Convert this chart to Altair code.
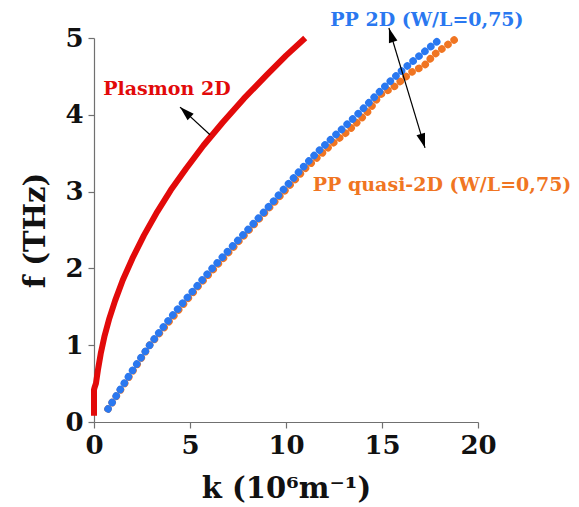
import altair as alt
import pandas as pd

# Plasmon 2D dispersion (k in 10^6 m^-1, f in THz)
plasmon_k = [0.0, 0.0, 0.03, 0.1, 0.2, 0.35, 0.55, 0.8, 1.1, 1.5, 2.0, 2.6, 3.3,
             4.0, 4.8, 5.7, 6.7, 7.8, 9.0, 10.0, 11.0]
plasmon_f = [0.08, 0.42, 0.45, 0.5, 0.67, 0.89, 1.12, 1.35, 1.58, 1.85, 2.13, 2.43,
             2.74, 3.02, 3.3, 3.6, 3.9, 4.21, 4.52, 4.77, 5.0]

# PP 2D (W/L=0,75)
pp2d_k = [0.73, 2.9, 5.5, 8.8, 11.35, 13.7, 15.4, 17.95]
pp2d_f = [0.17, 1.0, 1.81, 2.72, 3.44, 4.0, 4.43, 4.97]

# PP quasi-2D (W/L=0,75)
ppq_k = [0.73, 2.9, 5.5, 8.8, 11.0, 12.45, 13.2, 14.2, 14.9, 15.6, 16.5, 17.2, 17.7, 18.95]
ppq_f = [0.17, 1.0, 1.79, 2.70, 3.3, 3.63, 3.78, 4.02, 4.26, 4.36, 4.55, 4.64, 4.78, 5.01]

x_ticks = [0, 5, 10, 15, 20]
y_ticks = [0, 1, 2, 3, 4, 5]

RED = "#e20a0a"
BLUE = "#2a78f0"
ORANGE = "#f07522"
SERIF = "DejaVu Serif"

plasmon = pd.DataFrame({"k": plasmon_k, "f": plasmon_f, "i": range(len(plasmon_k))})
pp2d = pd.DataFrame({"k": pp2d_k, "f": pp2d_f})
ppq = pd.DataFrame({"k": ppq_k, "f": ppq_f})

xs = alt.Scale(domain=[0, 20], nice=False)
ys = alt.Scale(domain=[0, 5], nice=False)

x_enc = alt.X(
    "k:Q", scale=xs,
    axis=alt.Axis(values=x_ticks, format="d", labelFlush=False,
                  title="k (10⁶m⁻¹)", titleX=192, titleY=75,
                  titleBaseline="alphabetic", titleAlign="center"),
)
y_enc = alt.Y(
    "f:Q", scale=ys,
    axis=alt.Axis(values=y_ticks, format="d", labelFlush=False,
                  title="f (THz)", titleX=-50, titleY=192,
                  titleAngle=-90, titleBaseline="alphabetic", titleAlign="center"),
)

red_line = alt.Chart(plasmon).mark_line(
    color=RED, strokeWidth=6, strokeJoin="round"
).encode(x=x_enc, y=y_enc, order="i:Q")

orange_dots = alt.Chart(ppq).mark_line(
    color=ORANGE, strokeWidth=7.5, strokeCap="round", strokeDash=[0.01, 7.6]
).encode(x="k:Q", y="f:Q")

blue_dots = alt.Chart(pp2d).mark_line(
    color=BLUE, strokeWidth=7.5, strokeCap="round", strokeDash=[0.01, 7.6],
    interpolate="monotone"
).encode(x="k:Q", y="f:Q")

# annotation labels
labels = pd.DataFrame({
    "k": [3.8, 17.34, 18.13],
    "f": [4.34, 5.23, 3.09],
    "txt": ["Plasmon 2D", "PP 2D (W/L=0,75)", "PP quasi-2D (W/L=0,75)"],
    "col": [RED, BLUE, ORANGE],
})
text = alt.Chart(labels).mark_text(
    font=SERIF, fontWeight="bold", fontSize=19, align="center", baseline="middle"
).encode(x="k:Q", y="f:Q", text="txt:N", color=alt.Color("col:N", scale=None))

# arrows: shaft from tail to tip
arrows = pd.DataFrame({
    "k": [6.04, 17.24],
    "f": [3.74, 3.57],
    "k2": [4.48, 15.36],
    "f2": [4.10, 5.13],
})
shafts = alt.Chart(arrows).mark_rule(color="black", strokeWidth=1.2).encode(
    x="k:Q", y="f:Q", x2="k2:Q", y2="f2:Q"
)

heads = pd.DataFrame({
    "k": [4.48, 15.36, 17.24],
    "f": [4.10, 5.13, 3.57],
    "ang": [313, 343, 163],
})
arrowheads = alt.Chart(heads).mark_point(
    shape="M0,0 L0.55,1.8 L-0.55,1.8 Z", filled=True, color="black", opacity=1, size=260
).encode(x="k:Q", y="f:Q", angle=alt.Angle("ang:Q", scale=None))

chart = (
    alt.layer(red_line, orange_dots, blue_dots, shafts, arrowheads, text)
    .properties(
        width=384, height=384,
        autosize="none",
        padding={"left": 94, "top": 38, "right": 101, "bottom": 85},
    )
    .configure_view(stroke=None)
    .configure_axis(
        grid=False,
        domainColor="#707070",
        domainWidth=1.2,
        tickColor="#707070",
        tickWidth=1.2,
        tickSize=6,
        labelFont=SERIF,
        labelFontSize=26,
        labelColor="#111111",
        labelPadding=4,
        titleFont=SERIF,
        titleFontSize=29,
        titleFontWeight="bold",
        titleColor="#111111",
    )
    .configure_axisX(labelFontWeight="bold")
    .configure_axisY(labelFontWeight="bold", labelPadding=5)
)

chart.save("out.html", embed_options={"renderer": "svg", "actions": False})
